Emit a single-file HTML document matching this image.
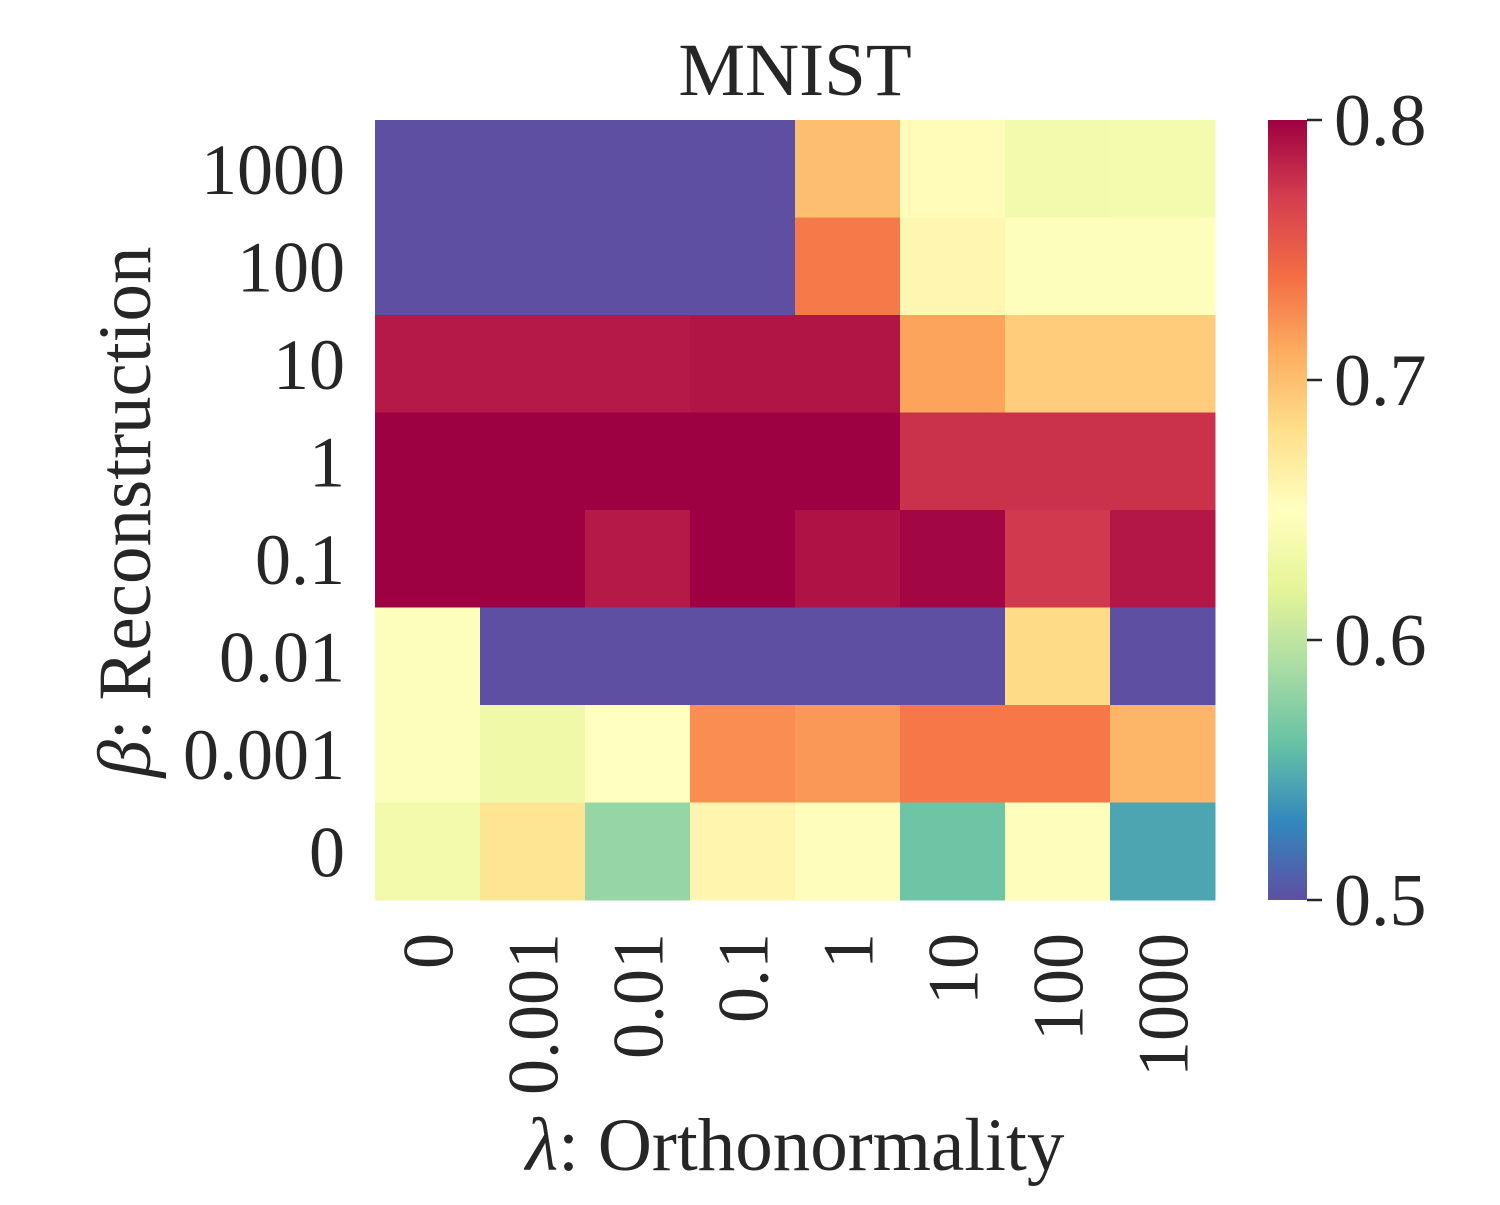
<!DOCTYPE html>
<html><head><meta charset="utf-8"><style>
html,body{margin:0;padding:0;background:#fff;}
svg text{font-family:"Liberation Serif",serif;fill:#262626;}
</style></head><body>
<svg id="chart" width="1500" height="1200" xmlns="http://www.w3.org/2000/svg">
<defs>
<linearGradient id="cbgrad" x1="0" y1="1" x2="0" y2="0">
<stop offset="0" stop-color="#5e4fa2"/><stop offset="0.1" stop-color="#3288bd"/><stop offset="0.2" stop-color="#66c2a5"/><stop offset="0.3" stop-color="#abdda4"/><stop offset="0.4" stop-color="#e6f598"/><stop offset="0.5" stop-color="#ffffbf"/><stop offset="0.6" stop-color="#fee08b"/><stop offset="0.7" stop-color="#fdae61"/><stop offset="0.8" stop-color="#f46d43"/><stop offset="0.9" stop-color="#d53e4f"/><stop offset="1" stop-color="#9e0142"/>
</linearGradient>
</defs>
<g id="cells"></g>
<g id="ylabels"></g>
<g id="xlabels"></g>
<text x="795" y="95" font-size="75" text-anchor="middle">MNIST</text>
<text transform="translate(150,512) rotate(-90)" font-size="75" text-anchor="middle"><tspan font-style="italic">β</tspan>: Reconstruction</text>
<text x="795" y="1170" font-size="75" text-anchor="middle"><tspan font-style="italic">λ</tspan>: Orthonormality</text>
<rect x="1268" y="120" width="39" height="780" fill="url(#cbgrad)"/>
<g id="cbticks"></g>
</svg>
<script>
const xCats = ["0","0.001","0.01","0.1","1","10","100","1000"];
const yCats = ["1000","100","10","1","0.1","0.01","0.001","0"];
const row1000 = [0.5,0.5,0.5,0.5,0.70,0.653,0.636,0.637];
const row100  = [0.5,0.5,0.5,0.5,0.734,0.658,0.648,0.648];
const row10   = [0.788,0.788,0.788,0.790,0.790,0.715,0.692,0.692];
const row1    = [0.8,0.8,0.8,0.8,0.8,0.776,0.776,0.776];
const row01   = [0.8,0.8,0.788,0.8,0.791,0.797,0.772,0.789];
const row001  = [0.647,0.5,0.5,0.5,0.5,0.5,0.683,0.5];
const row0001 = [0.647,0.632,0.650,0.725,0.72,0.735,0.735,0.705];
const row0    = [0.635,0.675,0.581,0.66,0.652,0.563,0.652,0.545];
const cbTicks = [0.5,0.6,0.7,0.8];
const vmin = 0.5, vmax = 0.8;
const rows = [row1000,row100,row10,row1,row01,row001,row0001,row0];

const X0=375, X1=1215, Y0=120, Y1=900;
const cw=(X1-X0)/xCats.length, ch=(Y1-Y0)/yCats.length;
const xPos = i => X0 + i*cw;
const yPos = j => Y0 + j*ch;
const cbY = v => Y1 - (v-vmin)/(vmax-vmin)*(Y1-Y0);
const stops = ["#5e4fa2","#3288bd","#66c2a5","#abdda4","#e6f598","#ffffbf","#fee08b","#fdae61","#f46d43","#d53e4f","#9e0142"].map(h=>[parseInt(h.slice(1,3),16),parseInt(h.slice(3,5),16),parseInt(h.slice(5,7),16)]);
function color(v){
  let t=Math.max(0,Math.min(1,(v-vmin)/(vmax-vmin)))*10;
  let i=Math.min(9,Math.floor(t)), f=t-i;
  const a=stops[i], b=stops[i+1];
  return `rgb(${a.map((c,k)=>Math.round(c+(b[k]-c)*f)).join(',')})`;
}
const NS="http://www.w3.org/2000/svg";
const cells=document.getElementById('cells');
rows.forEach((r,j)=>r.forEach((v,i)=>{
  const el=document.createElementNS(NS,'rect');
  
  
  el.setAttribute('x',xPos(i));el.setAttribute('y',yPos(j));
  el.setAttribute('width',cw+0.5);el.setAttribute('height',ch+0.5);
  el.setAttribute('fill',color(v));
  cells.appendChild(el);
}));
const yl=document.getElementById('ylabels');
yCats.forEach((c,j)=>{
  const el=document.createElementNS(NS,'text');
  
  
  el.setAttribute('x',345);el.setAttribute('y',yPos(j)+ch/2+25);
  el.setAttribute('font-size','72');el.setAttribute('text-anchor','end');
  el.textContent=c;yl.appendChild(el);
});
const xl=document.getElementById('xlabels');
xCats.forEach((c,i)=>{
  const el=document.createElementNS(NS,'text');
  
  
  const cx=xPos(i)+cw/2+25;
  el.setAttribute('transform',`translate(${cx},933) rotate(-90)`);
  el.setAttribute('font-size','72');el.setAttribute('text-anchor','end');
  el.textContent=c;xl.appendChild(el);
});
const cb=document.getElementById('cbticks');
cbTicks.forEach(v=>{
  const ln=document.createElementNS(NS,'line');
  
  
  ln.setAttribute('x1',1307);ln.setAttribute('x2',1322);
  ln.setAttribute('y1',cbY(v));ln.setAttribute('y2',cbY(v));
  ln.setAttribute('stroke','#262626');ln.setAttribute('stroke-width','2.5');
  cb.appendChild(ln);
  const t=document.createElementNS(NS,'text');
  
  
  t.setAttribute('x',1334);t.setAttribute('y',cbY(v)+25);
  t.setAttribute('font-size','74');
  t.textContent=v.toFixed(1);cb.appendChild(t);
});
</script>
</body></html>
